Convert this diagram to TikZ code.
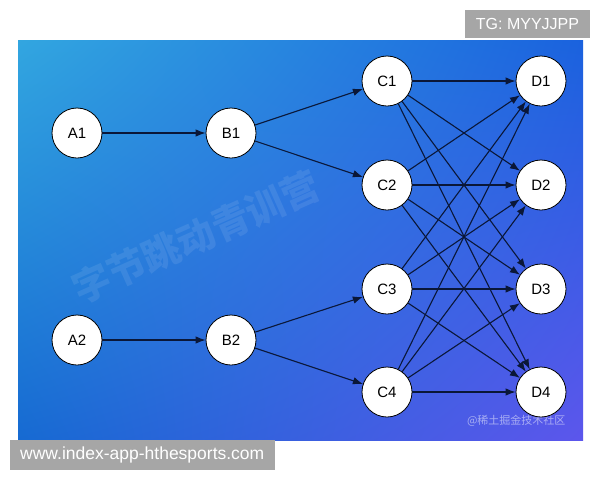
\documentclass[tikz,border=0pt]{standalone}
\usepackage{fontspec}
\setmainfont{Liberation Sans}
\newfontfamily\cjk{Noto Sans CJK SC}
\usetikzlibrary{arrows.meta, shadings}

\definecolor{edgeblue}{HTML}{0A1738}
\definecolor{tagGray}{HTML}{A6A6A6}
\definecolor{bgUL}{RGB}{50,166,224}
\definecolor{bgUR}{RGB}{26,98,222}
\definecolor{bgLL}{RGB}{22,106,210}
\definecolor{bgLR}{RGB}{92,86,236}

\tikzset{
  stage/.style={circle, draw=black, line width=0.8pt, fill=white, minimum size=50pt, inner sep=0pt, font=\fontsize{15}{15}\selectfont},
  flow/.style={draw=edgeblue, line width=1.1pt, -{Latex[length=10pt,width=7.5pt]}},
  tag/.style={fill=tagGray, text=white, inner sep=0pt}
}

\begin{document}
\begin{tikzpicture}[x=1pt, y=-1pt]
  \useasboundingbox[fill=white] (0,0) rectangle (600,480);

  % background panel
  \shade[upper left=bgUL, upper right=bgUR, lower left=bgLL, lower right=bgLR]
    (18,40) rectangle (583,440);

  % watermarks
  \node[text=white, opacity=0.09, rotate=24, font=\cjk\bfseries\fontsize{38}{38}\selectfont] (wm) at (196,237) {字节跳动青训营};
  \node[text=white, opacity=0.5, anchor=east, font=\cjk\fontsize{11}{11}\selectfont] (jj) at (569,421) {@稀土掘金技术社区};

  % nodes
  \node[stage] (a1) at (77,133) {A1};
  \node[stage] (b1) at (231,133) {B1};
  \node[stage] (a2) at (77,340) {A2};
  \node[stage] (b2) at (231,340) {B2};

  \node[stage] (c1) at (387,81) {C1};
  \node[stage] (c2) at (387,185) {C2};
  \node[stage] (c3) at (387,289) {C3};
  \node[stage] (c4) at (387,392) {C4};

  \node[stage] (d1) at (541,81) {D1};
  \node[stage] (d2) at (541,185) {D2};
  \node[stage] (d3) at (541,289) {D3};
  \node[stage] (d4) at (541,392) {D4};

  % edges
  \draw[flow] (a1) -- (b1);
  \draw[flow] (b1) -- (c1);
  \draw[flow] (b1) -- (c2);
  \draw[flow] (a2) -- (b2);
  \draw[flow] (b2) -- (c3);
  \draw[flow] (b2) -- (c4);
  \foreach \i in {1,...,4}
    \foreach \j in {1,...,4}
      \draw[flow] (c\i) -- (d\j);

  % labels
  \node[tag, minimum width=125pt, minimum height=28pt, font=\fontsize{16}{16}\selectfont] (tg) at (527.5,24) {TG: MYYJJPP};
  \fill[tagGray] (10,440) rectangle (275,470);
  \node[tag, anchor=west, font=\fontsize{17.5}{17.5}\selectfont] (url) at (20,455) {www.index-app-hthesports.com};
\end{tikzpicture}
\end{document}
